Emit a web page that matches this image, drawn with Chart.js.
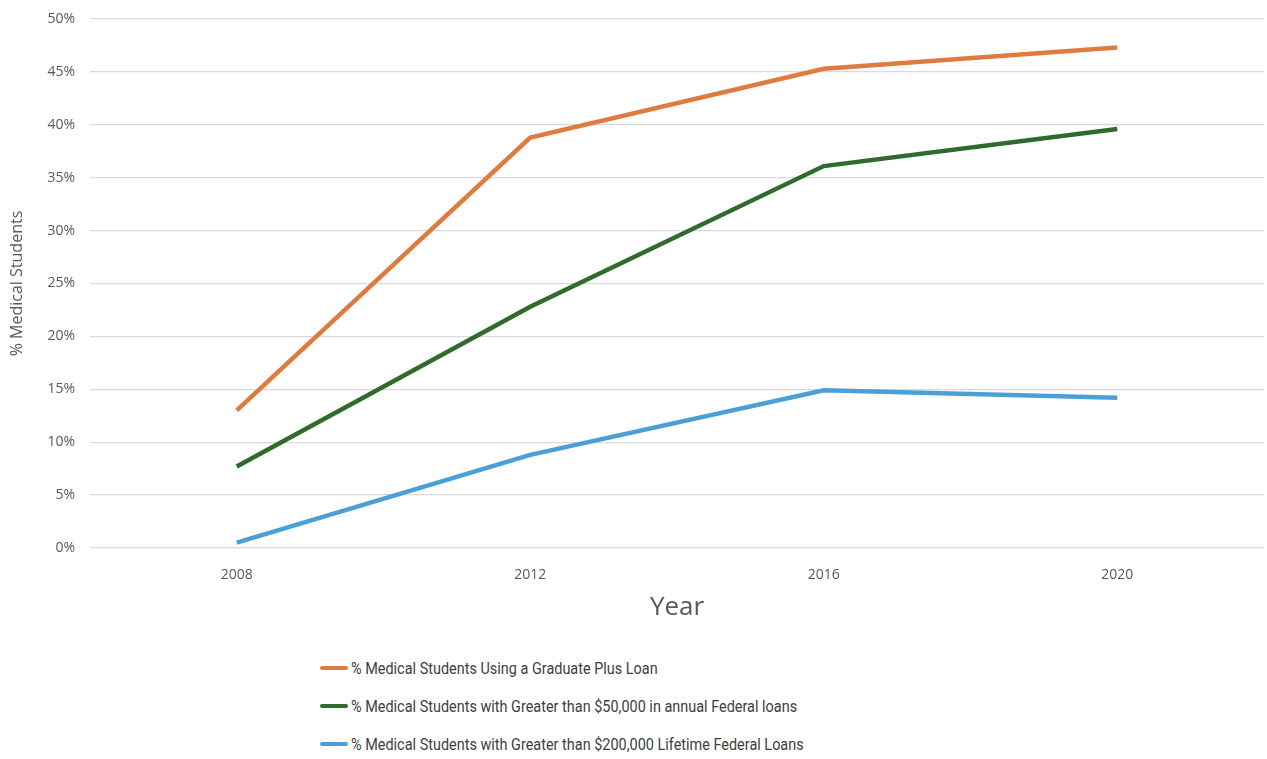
<!DOCTYPE html>
<html>
<head>
<meta charset="utf-8">
<script src="https://cdn.jsdelivr.net/npm/chart.js@4"></script>
<style>
    body { margin: 0; background: #fff; width: 1267px; height: 759px; overflow: hidden; position: relative; }
    #wrap { position: absolute; left: 0; top: 0; width: 1267px; height: 640px; }
    #legend { position: absolute; left: 320px; top: 649px; font-family: "Roboto", sans-serif; font-size: 17px; color: #404040; }
    .legendItem { height: 38px; display: flex; align-items: center; }
    .legendLine { width: 28px; height: 4px; border-radius: 2px; margin-right: 3px; flex: none; }
    .legendText { display: inline-block; transform: scaleX(0.85); transform-origin: left center; white-space: nowrap; }
</style>
</head>
<body>
<div id="wrap"><canvas id="loanChart"></canvas></div>
<div id="legend"></div>
<script>
let years = ['2008', '2012', '2016', '2020'];
let gradPlusLoan = [13.0, 38.8, 45.3, 47.3];
let annualOver50k = [7.7, 22.8, 36.1, 39.6];
let lifetimeOver200k = [0.5, 8.8, 14.9, 14.2];
let seriesNames = [
    '% Medical Students Using a Graduate Plus Loan',
    '% Medical Students with Greater than $50,000 in annual Federal loans',
    '% Medical Students with Greater than $200,000 Lifetime Federal Loans'
];
let seriesColors = ['#E07B3F', '#2F6B2A', '#4A9FD6'];
let loanChart;


function init() {
    creatChart();
    renderLegend();
}


function creatChart() {
    Chart.defaults.font.family = '"Open Sans", "Noto Sans", sans-serif';
    Chart.defaults.color = '#595959';

    loanChart = new Chart('loanChart', {
        type: 'line',
        data: {
            labels: years,
            datasets: [gradPlusLoan, annualOver50k, lifetimeOver200k].map((values, i) => ({
                label: seriesNames[i],
                data: values,
                borderColor: seriesColors[i],
                borderWidth: 4.5,
                pointRadius: 0,
                fill: false
            }))
        },
        options: {
            responsive: true,
            maintainAspectRatio: false,
            animation: false,
            layout: { padding: { top: 19, right: 3 } },
            plugins: {
                legend: { display: false },
                tooltip: { enabled: false }
            },
            scales: {
                x: {
                    offset: true,
                    grid: { display: false },
                    border: { display: false },
                    ticks: { padding: 11, font: { size: 14 } },
                    title: { display: true, text: 'Year', font: { size: 26 }, padding: { bottom: 17 } },
                    afterFit: (scale) => { scale.height = 92; }
                },
                y: {
                    min: 0,
                    max: 50,
                    grid: { color: '#D9D9D9', lineWidth: 1.3, drawTicks: false },
                    border: { display: false },
                    ticks: { stepSize: 5, padding: 15, font: { size: 14 }, callback: (v) => v + '%' },
                    title: { display: true, text: '% Medical Students', font: { size: 16 }, padding: { top: 8 } },
                    afterFit: (scale) => { scale.width = 90; scale.paddingTop = 0; scale.paddingBottom = 0; }
                }
            }
        }
    });
}


function renderLegend() {
    let legend = document.getElementById('legend');

    loanChart.data.datasets.forEach((ds) => {
        legend.innerHTML += `
        <div class="legendItem"><span class="legendLine" style="background:${ds.borderColor}"></span><span class="legendText">${ds.label}</span></div>`;
    });
}


init();
</script>
</body>
</html>
